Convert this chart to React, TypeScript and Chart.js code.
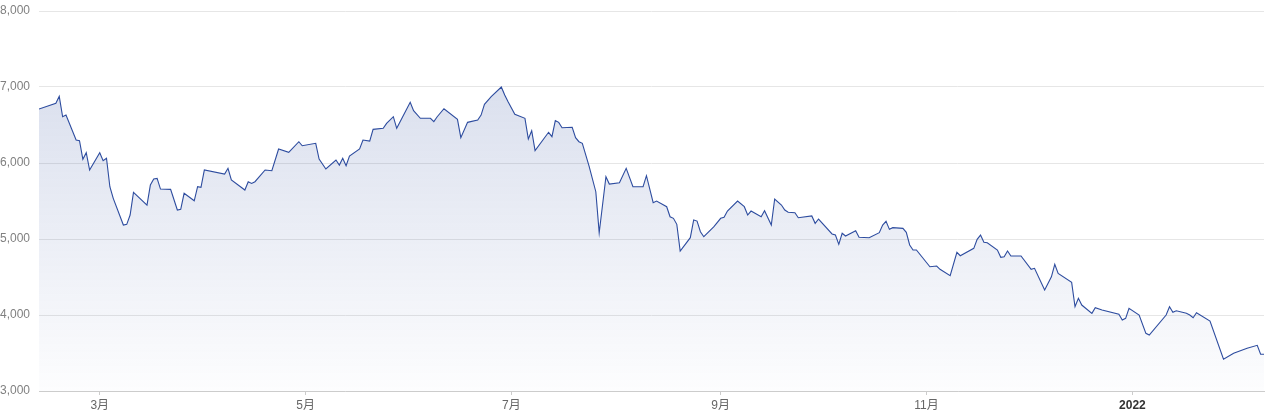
import React, { useEffect, useRef } from "react";
import { Chart, registerables } from "chart.js";

Chart.register(...registerables);

// Days since 2021-01-01 (trading-day vertices of the index line)
const days: number[] = [
  41, 46, 47, 48, 49, 52, 53, 54, 55, 56, 59, 60, 61, 62, 63, 66, 67, 68, 69, 73,
  74, 75, 76, 77, 80, 82, 83, 84, 87, 88, 89, 90, 96, 97, 98, 102, 103, 104, 105, 108,
  110, 112, 115, 118, 119, 123, 124, 126, 129, 130, 131, 132, 133, 136, 137, 139, 140, 143, 144, 146,
  147, 151, 152, 154, 157, 158, 159, 161, 165, 166, 168, 171, 172, 173, 175, 178, 179, 180, 182, 185,
  186, 187, 188, 192, 193, 194, 195, 196, 199, 200, 201, 202, 204, 206, 207, 209, 210, 213, 215, 217,
  220, 221, 223, 224, 227, 228, 229, 230, 231, 234, 235, 236, 237, 238, 241, 243, 244, 245, 248, 250,
  251, 252, 255, 256, 258, 259, 261, 262, 263, 265, 266, 270, 271, 272, 276, 277, 278, 279, 280, 283,
  284, 287, 290, 291, 292, 293, 294, 297, 298, 299, 300, 301, 305, 307, 308, 311, 313, 314, 318, 319,
  320, 321, 322, 325, 326, 327, 328, 329, 332, 335, 336, 339, 341, 342, 343, 347, 348, 349, 350, 353,
  354, 356, 361, 362, 363, 364, 367, 369, 370, 375, 376, 377, 378, 381, 382, 383, 384, 388, 392, 395,
  399, 402, 403, 404,
];

const values: number[] = [
  6710, 6785, 6877, 6609, 6632, 6302, 6293, 6048, 6135, 5908, 6135, 6030, 6062, 5688, 5535, 5184, 5193, 5315, 5614, 5447,
  5710, 5789, 5798, 5657, 5653, 5381, 5390, 5601, 5503, 5688, 5680, 5908, 5855, 5930, 5776, 5644, 5754, 5732, 5754, 5908,
  5899, 6184, 6141, 6280, 6227, 6259, 6052, 5921, 6039, 5973, 6062, 5964, 6092, 6184, 6302, 6289, 6443, 6456, 6522, 6609,
  6456, 6799, 6688, 6588, 6588, 6544, 6609, 6714, 6575, 6333, 6535, 6566, 6631, 6772, 6872, 7000, 6895, 6806, 6641, 6588,
  6316, 6425, 6162, 6404, 6346, 6557, 6535, 6464, 6470, 6333, 6280, 6259, 5960, 5622, 5083, 5820, 5723, 5741, 5930, 5688,
  5688, 5833, 5478, 5500, 5425, 5293, 5272, 5193, 4842, 5017, 5250, 5236, 5096, 5030, 5162, 5272, 5285, 5368, 5500, 5425,
  5315, 5368, 5293, 5372, 5184, 5526, 5447, 5381, 5351, 5346, 5280, 5303, 5206, 5263, 5066, 5052, 4930, 5075, 5039, 5109,
  5022, 5017, 5083, 5184, 5232, 5127, 5149, 5140, 5088, 4921, 4855, 4855, 4635, 4644, 4601, 4517, 4825, 4780, 4877, 4996,
  5052, 4956, 4951, 4855, 4759, 4767, 4842, 4776, 4776, 4601, 4614, 4328, 4503, 4667, 4548, 4430, 4109, 4219, 4131, 4022,
  4096, 4066, 4009, 3934, 3956, 4088, 4000, 3759, 3737, 4000, 4109, 4035, 4056, 4022, 4000, 3964, 4030, 3920, 3417, 3496,
  3562, 3601, 3483, 3483,
];

const xTickDays: number[] = [59, 120, 181, 243, 304, 365];
const xTickLabels: string[] = ["3月", "5月", "7月", "9月", "11月", "2022"];
const yMin = 3000;
const yMax = 8000;
const yStep = 1000;

const FONT = "Arial, 'Liberation Sans', 'Noto Sans CJK SC', sans-serif";

export default function App() {
  const canvasRef = useRef<HTMLCanvasElement | null>(null);

  useEffect(() => {
    document.body.style.margin = "0";
    const canvas = canvasRef.current;
    if (!canvas) return;
    const chart = new Chart(canvas, {
      type: "line",
      data: {
        datasets: [
          {
            data: days.map((d, i) => ({ x: d, y: values[i] })),
            borderColor: "#2d4c9f",
            borderWidth: 1.1,
            pointRadius: 0,
            tension: 0,
            fill: "start",
            backgroundColor: (context: any) => {
              const { chart } = context;
              const { ctx, chartArea } = chart;
              if (!chartArea) return "rgba(52,81,160,0.1)";
              const g = ctx.createLinearGradient(0, chartArea.top, 0, chartArea.bottom);
              g.addColorStop(0, "rgba(52,81,160,0.22)");
              g.addColorStop(1, "rgba(52,81,160,0.01)");
              return g;
            },
          },
        ],
      },
      options: {
        animation: false,
        responsive: false,
        devicePixelRatio: 1,
        layout: { padding: { top: 11, right: 4, left: 0, bottom: 0 } },
        plugins: {
          legend: { display: false },
          tooltip: { enabled: false },
        },
        scales: {
          x: {
            type: "linear",
            min: days[0],
            max: days[days.length - 1],
            afterBuildTicks: (scale: any) => {
              scale.ticks = xTickDays.map((v) => ({ value: v }));
            },
            afterFit: (scale: any) => {
              scale.height = 23;
              scale.paddingLeft = 0;
              scale.paddingRight = 0;
            },
            ticks: {
              autoSkip: false,
              maxRotation: 0,
              padding: 3,
              callback: (v: any) => {
                const i = xTickDays.indexOf(Number(v));
                return i >= 0 ? xTickLabels[i] : "";
              },
              color: (ctx: any) => (ctx.index === xTickDays.length - 1 ? "#333" : "#666"),
              font: (ctx: any) => ({
                family: FONT,
                size: 12,
                weight: ctx.index === xTickDays.length - 1 ? "bold" : "normal",
              }),
            },
            grid: {
              drawOnChartArea: false,
              drawTicks: true,
              tickLength: 4,
              color: "#ccc",
            },
            border: { display: true, color: "#ccc" },
          },
          y: {
            min: yMin,
            max: yMax,
            afterFit: (scale: any) => {
              scale.width = 39;
              scale.paddingTop = 0;
              scale.paddingBottom = 0;
            },
            ticks: {
              stepSize: yStep,
              padding: 9,
              color: "#808080",
              font: { family: FONT, size: 12 },
              callback: (v: any) => Number(v).toLocaleString("en-US"),
            },
            grid: { color: "#e6e6e6", drawTicks: false },
            border: { display: false },
          },
        },
      },
    } as any);
    return () => chart.destroy();
  }, []);

  return (
    <div style={{ width: 1268, height: 414 }}>
      <canvas ref={canvasRef} width={1268} height={414} style={{ display: "block" }} />
    </div>
  );
}
